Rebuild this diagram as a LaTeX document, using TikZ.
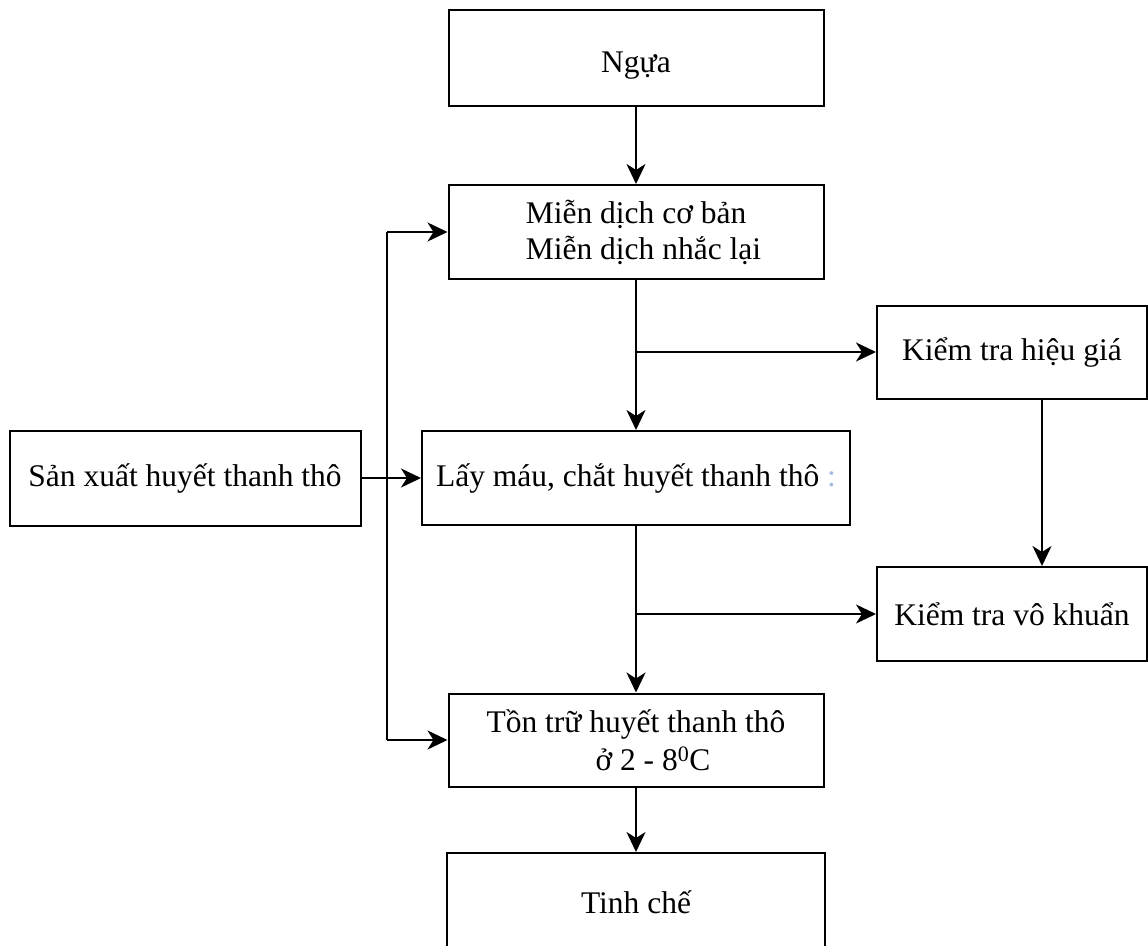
\documentclass[tikz,border=0pt]{standalone}
\usepackage{fontspec}
\setmainfont{Liberation Serif}
\usetikzlibrary{arrows.meta}
\definecolor{faintmark}{RGB}{160,185,220}
\tikzset{
  stepbox/.style = {rectangle, draw=black, line width=2pt, inner sep=0pt,
    align=center, font=\fontsize{31.5}{36}\selectfont},
  mainbox/.style = {stepbox, minimum width=375pt, minimum height=94pt},% cot chinh
  checkbox/.style = {stepbox, minimum width=270pt, minimum height=93pt}% kiem tra
}

\begin{document}
\begin{tikzpicture}[x=1pt,y=-1pt,->,>={Stealth[length=20pt,width=19pt,inset=6pt]},line width=2pt]
  \useasboundingbox (0,0) rectangle (1148,945);
  \clip (0,0) rectangle (1148,945);
  \node [mainbox, minimum height=96pt] (ngua) at (636,58) {\raisebox{-8pt}[\height][\depth]{Ngựa}};
  \node [mainbox, align=left] (mienDich) at (636,232) {\hspace*{15pt}Miễn dịch cơ bản\\\hspace*{15pt}Miễn dịch nhắc lại};
  \node [checkbox] (hieuGia) at (1012,352) {Kiểm tra hiệu giá};
  \node [stepbox, minimum width=351pt, minimum height=95pt] (sanXuat) at (185,478) {Sản xuất huyết thanh thô};
  \node [mainbox, minimum width=428pt] (layMau) at (636,478) {Lấy máu, chắt huyết thanh thô~{\color{faintmark}:}};
  \node [checkbox, minimum height=94pt] (voKhuan) at (1012,614) {Kiểm tra vô khuẩn};
  \node [mainbox, minimum height=93pt, font=\fontsize{31.5}{38}\selectfont] (tonTru) at (636,740) {Tồn trữ huyết thanh thô\\\hspace*{34pt}ở 2 - 8\textsuperscript{0}C};
  \node [mainbox, minimum width=378pt, minimum height=98pt] (tinhChe) at (636,902) {Tinh chế};

  \coordinate (b1) at (636,352);
  \coordinate (b2) at (636,614);
  \coordinate (lTop) at (387,232);
  \coordinate (lBot) at (387,740);

  \foreach \from/\to in {ngua/mienDich,mienDich/layMau,layMau/tonTru,tonTru/tinhChe,
      b1/hieuGia,b2/voKhuan,lTop/mienDich,lBot/tonTru,sanXuat/layMau}
    \draw (\from) -- (\to);
  \draw [-] (lTop) -- (lBot);
  \draw ([xshift=30pt]hieuGia.south) -- ([xshift=30pt]voKhuan.north);
\end{tikzpicture}
\end{document}
